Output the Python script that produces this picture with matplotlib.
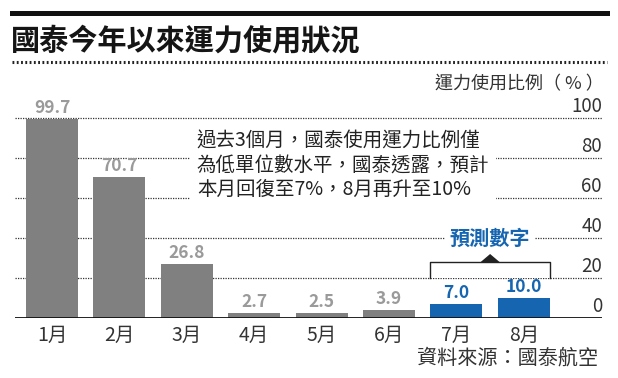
import matplotlib
matplotlib.use("Agg")
import matplotlib.pyplot as plt
from matplotlib.patches import Rectangle, Polygon
from matplotlib.lines import Line2D

plt.rcParams['font.family'] = ['Noto Sans CJK TC', 'DejaVu Sans']

months = ['1月', '2月', '3月', '4月', '5月', '6月', '7月', '8月']
usage = [99.7, 70.7, 26.8, 2.7, 2.5, 3.9, 7.0, 10.0]
forecast = [False, False, False, False, False, False, True, True]
yticks = [0, 20, 40, 60, 80, 100]

title = '國泰今年以來運力使用狀況'
ylabel = '運力使用比例（ % ）'
note = '過去3個月，國泰使用運力比例僅\n為低單位數水平，國泰透露，預計\n本月回復至7%，8月再升至10%'
forecast_label = '預測數字'
source = '資料來源：國泰航空'

GRAY = '#808080'
GRAY_TXT = '#9a9a9a'
BLUE = '#1565b0'
W, H = 618, 378

fig = plt.figure(figsize=(W / 100, H / 100), dpi=100)
fig.patch.set_facecolor('white')

# header: thick bar, title, dotted rule
fig.add_artist(Line2D([12 / W, 607 / W], [1 - 12.5 / H, 1 - 12.5 / H], color='#111111', lw=3.6))
fig.text(11 / W, 1 - 40 / H, title, fontsize=21, fontweight='bold', color='#151515',
         ha='left', va='center')
fig.add_artist(Line2D([12 / W, 607 / W], [1 - 62 / H, 1 - 62 / H], color='#222222', lw=2.2,
                      linestyle=(0, (0.6, 0.8))))
fig.text(604 / W, 1 - 84 / H, ylabel, fontsize=13, color='#333333', ha='right', va='center')

# axes: baseline at y=318px, 2px per unit
ax = fig.add_axes([15 / W, (H - 318) / H, 587 / W, 210 / H])
ax.set_xlim(-0.549, 8.16)
ax.set_ylim(0, 105)
for s in ax.spines.values():
    s.set_visible(False)

x = list(range(len(months)))
colors = [BLUE if f else GRAY for f in forecast]
bars = ax.bar(x, usage, width=0.77, color=colors, zorder=3)

for t in yticks[1:]:
    ax.axhline(t, color='#333333', lw=0.9, linestyle=(0, (1, 1)), zorder=1)
ax.axhline(0, color='#111111', lw=1.3, zorder=4)

for t in yticks:
    ax.text(1.0, t + 0.6, str(t), transform=ax.get_yaxis_transform(), ha='right', va='bottom',
            fontsize=13.5, color='#333333', zorder=5)

for xi, v, f in zip(x, usage, forecast):
    ax.annotate(f'{v:.1f}', (xi, v), xytext=(0, 1.5), textcoords='offset points',
                ha='center', va='bottom', fontsize=12.5, fontweight='bold',
                color=BLUE if f else GRAY_TXT, zorder=5)

ax.set_xticks(x)
ax.set_xticklabels(months, fontsize=14, color='#333333')
ax.tick_params(axis='x', length=0, pad=5)
ax.set_yticks([])

# note box
ax.text(2.15, 93.5, note, ha='left', va='top', fontsize=14, color='#222222',
        linespacing=1.2, zorder=6,
        bbox=dict(boxstyle='square,pad=0.35', facecolor='white', edgecolor='none'))

# forecast bracket
fx = [xi for xi, f in zip(x, forecast) if f]
bl, br = min(fx) - 0.38 - 0.01, max(fx) + 0.38 + 0.01
mid = (bl + br) / 2
ax.add_patch(Rectangle((bl, 20), br - bl, 8, facecolor='white', edgecolor='none', zorder=2))
ax.plot([bl, bl, br, br], [20, 28, 28, 20], color='#222222', lw=1.0, zorder=3)
ax.add_patch(Polygon([[mid - 0.14, 28], [mid + 0.14, 28], [mid, 32]], closed=True,
                     facecolor='#222222', edgecolor='none', zorder=3))
ax.text(mid, 40, forecast_label, ha='center', va='center', fontsize=14.5, fontweight='bold',
        color=BLUE, zorder=6,
        bbox=dict(boxstyle='square,pad=0.25', facecolor='white', edgecolor='none'))

fig.text(598 / W, 1 - 358 / H, source, fontsize=14.5, color='#333333', ha='right', va='center')

fig.savefig('out.png', dpi=100)
